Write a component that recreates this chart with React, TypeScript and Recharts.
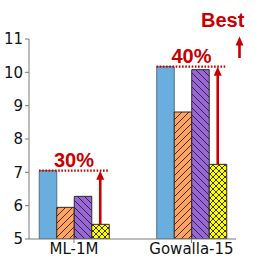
import React from 'react';
import { BarChart, Bar, XAxis, YAxis, ReferenceLine } from 'recharts';

// values
const categories = ['ML-1M', 'Gowalla-15'];
const blueValues = [7.05, 10.17];
const orangeValues = [5.95, 8.81];
const purpleValues = [6.28, 10.08];
const yellowValues = [5.44, 7.24];
const gainLabels = ['30%', '40%'];
const yTicks = [5, 6, 7, 8, 9, 10, 11];

const data = categories.map((name, i) => ({
  pos: i,
  name,
  blue: blueValues[i],
  orange: orangeValues[i],
  purple: purpleValues[i],
  yellow: yellowValues[i],
}));

const RED = '#c80000';
const AXIS = '#7a7a7a';
const EDGE = '#2a2a2a';
const TICK_FONT = 'DejaVu Sans, sans-serif';
const NOTE_FONT = 'Liberation Sans, Arial, sans-serif';

const W = 258;
const H = 264;
const PLOT_W = 207;
const BAR = 17.5;
const X_DOMAIN: [number, number] = [-0.383, 1.379];
// bar width in x units, so annotations can sit on the bars
const barUnits = BAR / (PLOT_W / (X_DOMAIN[1] - X_DOMAIN[0]));

function ArrowLine(props: any) {
  const { x1, y1, x2, y2 } = props;
  const tipY = Math.min(y1, y2);
  const baseY = Math.max(y1, y2);
  const x = x1;
  const head = 9;
  const hw = 4;
  return (
    <g>
      <line x1={x} y1={baseY} x2={x} y2={tipY + head - 1} stroke={RED} strokeWidth={2.6} />
      <polygon points={`${x},${tipY} ${x - hw},${tipY + head} ${x + hw},${tipY + head}`} fill={RED} />
    </g>
  );
}

export default function App() {
  return (
    <div style={{ position: 'absolute', left: 0, top: 0, width: W, height: H, background: '#fff' }}>
      <BarChart
        width={W}
        height={H}
        data={data}
        margin={{ top: 39, right: 22, bottom: 0, left: 0 }}
        barGap={0}
        barSize={BAR}
      >
        <defs>
          <pattern id="hatchOrange" patternUnits="userSpaceOnUse" width="7" height="7">
            <rect width="7" height="7" fill="#ffa35e" />
            <path d="M0,7 L7,0 M-2,2 L2,-2 M5,9 L9,5" stroke="#222" strokeWidth="0.9" />
          </pattern>
          <pattern id="hatchPurple" patternUnits="userSpaceOnUse" width="7" height="7">
            <rect width="7" height="7" fill="#9966d8" />
            <path d="M0,0 L7,7 M-2,5 L2,9 M5,-2 L9,2" stroke="#222" strokeWidth="0.9" />
          </pattern>
          <pattern id="hatchYellow" patternUnits="userSpaceOnUse" width="6" height="6">
            <rect width="6" height="6" fill="#ffff00" />
            <path d="M0,0 L6,6 M0,6 L6,0" stroke="#222" strokeWidth="0.9" />
          </pattern>
        </defs>
        <XAxis
          dataKey="pos"
          type="number"
          domain={X_DOMAIN}
          allowDataOverflow
          ticks={[0, 1]}
          tickFormatter={(v) => categories[v] ?? ''}
          height={25}
          stroke={AXIS}
          tickSize={4}
          tickMargin={0}
          tick={{ fill: '#111', fontSize: 15, fontFamily: TICK_FONT }}
        />
        <XAxis
          xAxisId="top"
          orientation="top"
          type="number"
          domain={X_DOMAIN}
          allowDataOverflow
          height={0}
          tick={false}
          tickLine={false}
          stroke={AXIS}
        />
        <YAxis
          domain={[5, 11]}
          ticks={yTicks}
          allowDataOverflow
          width={29}
          stroke={AXIS}
          tickSize={4}
          tickMargin={2}
          tick={{ fill: '#111', fontSize: 15, fontFamily: TICK_FONT }}
        />
        <YAxis
          yAxisId="right"
          orientation="right"
          domain={[5, 11]}
          width={0}
          tick={false}
          tickLine={false}
          stroke={AXIS}
        />
        <Bar dataKey="blue" fill="#6aaede" stroke="#4f6f88" strokeWidth={1} isAnimationActive={false} />
        <Bar dataKey="orange" fill="url(#hatchOrange)" stroke={EDGE} strokeWidth={1} isAnimationActive={false} />
        <Bar dataKey="purple" fill="url(#hatchPurple)" stroke={EDGE} strokeWidth={1} isAnimationActive={false} />
        <Bar dataKey="yellow" fill="url(#hatchYellow)" stroke={EDGE} strokeWidth={1} isAnimationActive={false} />
        {data.map((d, i) => (
          <ReferenceLine
            key={`best-${i}`}
            segment={[
              { x: d.pos - 2 * barUnits, y: d.blue },
              { x: d.pos + 2 * barUnits, y: d.blue },
            ]}
            stroke={RED}
            strokeWidth={2.2}
            strokeDasharray="1.6 1.6"
            ifOverflow="visible"
            label={{
              value: gainLabels[i],
              position: 'top',
              offset: 4,
              fill: RED,
              fontSize: 20,
              fontWeight: 'bold',
              fontFamily: NOTE_FONT,
            }}
          />
        ))}
        {data.map((d, i) => (
          <ReferenceLine
            key={`gain-${i}`}
            segment={[
              { x: d.pos + 1.5 * barUnits, y: d.yellow },
              { x: d.pos + 1.5 * barUnits, y: d.blue },
            ]}
            ifOverflow="visible"
            shape={ArrowLine}
          />
        ))}
      </BarChart>
      <svg
        width={W}
        height={H}
        style={{ position: 'absolute', left: 0, top: 0, pointerEvents: 'none' }}
      >
        <text x={201} y={27} fill={RED} fontSize={20} fontWeight="bold" fontFamily={NOTE_FONT}>
          Best
        </text>
        <line x1={239.5} y1={58} x2={239.5} y2={44} stroke={RED} strokeWidth={2.6} />
        <polygon points="239.5,36.5 235.5,45.5 243.5,45.5" fill={RED} />
      </svg>
    </div>
  );
}
